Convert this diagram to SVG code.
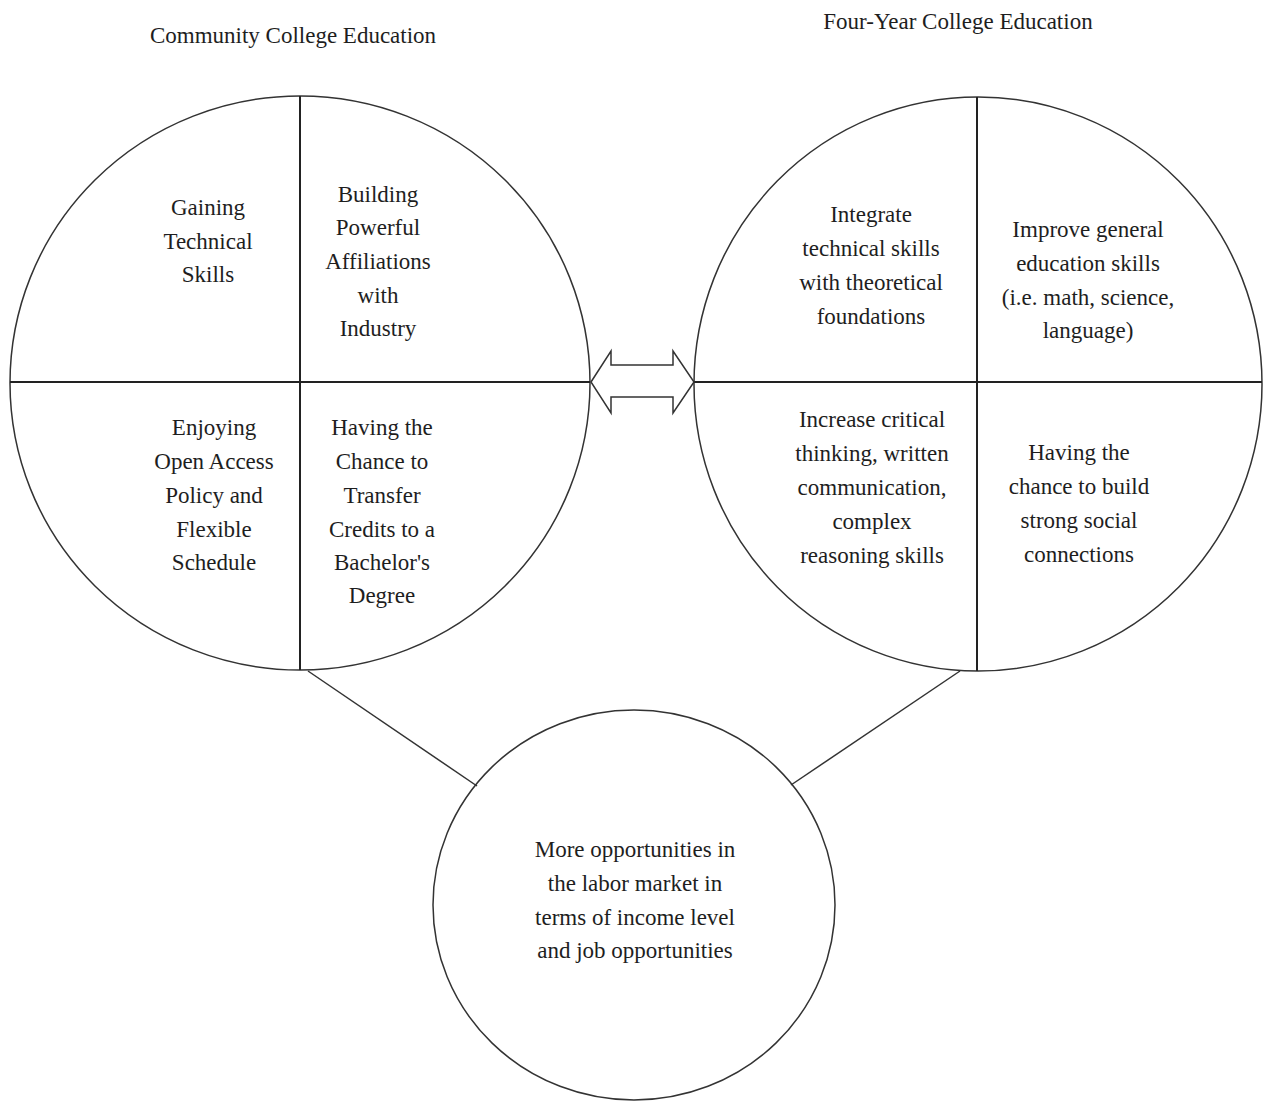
<svg xmlns="http://www.w3.org/2000/svg" width="1263" height="1102" viewBox="0 0 1263 1102">
<style>
.t{font-family:"Liberation Serif","Times New Roman",serif;font-size:23px;fill:#1e1e1e;text-anchor:middle}
.c{fill:none;stroke:#333;stroke-width:1.5}
.d{stroke:#222;stroke-width:2}
.l{fill:none;stroke:#333;stroke-width:1.5}
</style>
<rect width="1263" height="1102" fill="#fff"/>
<text class="t" x="293" y="43">Community College Education</text>
<text class="t" x="958" y="29">Four-Year College Education</text>
<g id="community-college">
<ellipse class="c" cx="300" cy="383" rx="290" ry="287"/>
<line class="d" x1="10" y1="382" x2="590" y2="382"/>
<line class="d" x1="300" y1="96" x2="300" y2="670"/>
<text class="t" x="208"><tspan x="208" y="215">Gaining</tspan><tspan x="208" y="248.5">Technical</tspan><tspan x="208" y="282">Skills</tspan></text>
<text class="t" x="378"><tspan x="378" y="201.5">Building</tspan><tspan x="378" y="235">Powerful</tspan><tspan x="378" y="269">Affiliations</tspan><tspan x="378" y="302.5">with</tspan><tspan x="378" y="336">Industry</tspan></text>
<text class="t" x="214"><tspan x="214" y="435">Enjoying</tspan><tspan x="214" y="469">Open Access</tspan><tspan x="214" y="503">Policy and</tspan><tspan x="214" y="537">Flexible</tspan><tspan x="214" y="570">Schedule</tspan></text>
<text class="t" x="382"><tspan x="382" y="435">Having the</tspan><tspan x="382" y="469">Chance to</tspan><tspan x="382" y="503">Transfer</tspan><tspan x="382" y="537">Credits to a</tspan><tspan x="382" y="570">Bachelor's</tspan><tspan x="382" y="603">Degree</tspan></text>
</g>
<g id="four-year-college">
<ellipse class="c" cx="978" cy="384" rx="284" ry="287"/>
<line class="d" x1="694" y1="382" x2="1262" y2="382"/>
<line class="d" x1="977" y1="97" x2="977" y2="671"/>
<text class="t" x="871"><tspan x="871" y="222">Integrate</tspan><tspan x="871" y="256">technical skills</tspan><tspan x="871" y="290">with theoretical</tspan><tspan x="871" y="323.5">foundations</tspan></text>
<text class="t" x="1088"><tspan x="1088" y="237">Improve general</tspan><tspan x="1088" y="270.5">education skills</tspan><tspan x="1088" y="305">(i.e. math, science,</tspan><tspan x="1088" y="338">language)</tspan></text>
<text class="t" x="872"><tspan x="872" y="427">Increase critical</tspan><tspan x="872" y="461">thinking, written</tspan><tspan x="872" y="495">communication,</tspan><tspan x="872" y="529">complex</tspan><tspan x="872" y="562.5">reasoning skills</tspan></text>
<text class="t" x="1079"><tspan x="1079" y="460">Having the</tspan><tspan x="1079" y="494">chance to build</tspan><tspan x="1079" y="528">strong social</tspan><tspan x="1079" y="562">connections</tspan></text>
</g>
<g id="outcome">
<ellipse class="c" cx="634" cy="905" rx="201" ry="195"/>
<text class="t" x="635"><tspan x="635" y="857">More opportunities in</tspan><tspan x="635" y="891">the labor market in</tspan><tspan x="635" y="925">terms of income level</tspan><tspan x="635" y="958">and job opportunities</tspan></text>
</g>
<g id="connectors">
<polygon class="l" points="591,382 611,351 611,365 673,365 673,351 694,382 673,413 673,397 611,397 611,413" fill="#fff"/>
<line class="l" x1="308" y1="671" x2="477" y2="786"/>
<line class="l" x1="960" y1="671" x2="791" y2="785"/>
</g>
</svg>
